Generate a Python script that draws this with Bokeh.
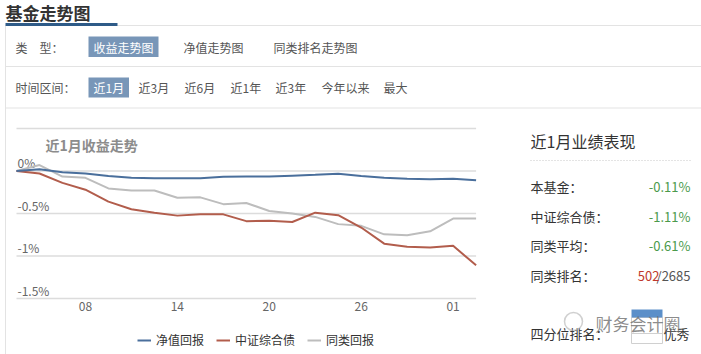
from bokeh.plotting import figure
from bokeh.models import Range1d, Legend, LegendItem
from bokeh.core.properties import value
from bokeh.embed import file_html
from bokeh.resources import INLINE

# ---------------- data ----------------
days = list(range(21))
nav_return = [0, 0.02, -0.015, -0.03, -0.06, -0.08, -0.085, -0.085, -0.085, -0.067, -0.066,
              -0.065, -0.055, -0.045, -0.032, -0.058, -0.078, -0.09, -0.098, -0.09, -0.11]
bench_return = [0, -0.03, -0.14, -0.22, -0.36, -0.45, -0.49, -0.525, -0.51, -0.51, -0.59,
                -0.585, -0.60, -0.49, -0.52, -0.665, -0.855, -0.89, -0.90, -0.88, -1.11]
peer_return = [0, 0.07, -0.065, -0.08, -0.205, -0.23, -0.23, -0.315, -0.31, -0.39, -0.376,
               -0.47, -0.50, -0.54, -0.625, -0.645, -0.745, -0.755, -0.71, -0.56, -0.56]
tick_index = [3, 7, 11, 15, 19]
tick_labels = ["08", "14", "20", "26", "01"]
y_ticks = [0.5, 0, -0.5, -1, -1.5]
y_tick_labels = ["0%", "-0.5%", "-1%", "-1.5%"]
series_names = ["净值回报", "中证综合债", "同类回报"]
stat_labels = ["本基金：", "中证综合债：", "同类平均：", "同类排名："]
stat_values = ["-0.11%", "-1.11%", "-0.61%"]
rank_value = "502"
rank_total = "/2685"
type_tabs = ["收益走势图", "净值走势图", "同类排名走势图"]
period_tabs = ["近1月", "近3月", "近6月", "近1年", "近3年", "今年以来", "最大"]

# ---------------- page ----------------
W, H = 701, 354
FONT = value("Noto Sans CJK SC")
p = figure(width=W, height=H, x_range=Range1d(0, W), y_range=Range1d(H, 0),
           min_border=0, outline_line_color=None, toolbar_location=None,
           output_backend="svg", x_axis_location=None, y_axis_location=None)
p.grid.visible = False
p.background_fill_color = "white"

def txt(xs, ys, texts, size, color, align="left", style="normal", alpha=1.0,
        baseline="middle", xr="default", yr="default"):
    p.text(x=xs, y=ys, text=texts, text_font=FONT, text_font_size=f"{size}px",
           text_color=color, text_align=align, text_baseline=baseline,
           text_font_style=style, text_alpha=alpha, x_range_name=xr, y_range_name=yr)

LINE = "#e3e3e3"
# header
txt([5], [11.5], ["基金走势图"], 17, "#333333", style="bold")
p.segment(x0=[117, 5, 5], y0=[25, 66, 107.5], x1=[W, W, W], y1=[25, 66, 107.5],
          line_color=LINE, line_width=1)
p.segment(x0=[5], y0=[25], x1=[5], y1=[H], line_color=LINE, line_width=1)
p.quad(left=[5], right=[117], top=[22.5], bottom=[25.5], fill_color="#2e5b88", line_color=None)

# tab rows
HL = "#7896b8"
txt([15], [46.5], ["类　型："], 12, "#555555")
p.quad(left=[88], right=[158], top=[36], bottom=[56.5], fill_color=HL, line_color=None)
txt([123], [46.5], [type_tabs[0]], 12, "white", align="center")
txt([183, 273], [46.5, 46.5], type_tabs[1:], 12, "#555555")

txt([15], [87.3], ["时间区间："], 12, "#555555")
p.quad(left=[88], right=[128.5], top=[77], bottom=[97], fill_color=HL, line_color=None)
txt([108.3], [87.3], [period_tabs[0]], 12, "white", align="center")
txt([138, 184, 230, 275, 321, 383], [87.3] * 6, period_tabs[1:], 12, "#555555")

# ---------------- chart ----------------
CL, CR = 16.0, 475.6          # pixel extent of the x data range
Y0, K = 170.5, 85.0           # pixel of 0% and pixels per 1%
dx = (CR - CL) / (days[-1] - days[0])
p.extra_x_ranges = {"chart": Range1d(days[0] - CL / dx, days[-1] + (W - CR) / dx)}
p.extra_y_ranges = {"chart": Range1d((Y0 - H) / K, Y0 / K)}

p.segment(x0=[days[0]] * len(y_ticks), x1=[days[-1]] * len(y_ticks), y0=y_ticks, y1=y_ticks,
          x_range_name="chart", y_range_name="chart", line_color="#dcdcdc", line_width=1.5)
txt([17] * len(y_tick_labels), y_ticks[1:], y_tick_labels, 12, "#666666",
    baseline="bottom", yr="chart")
txt(tick_index, [305.7] * len(tick_index), tick_labels, 12, "#666666", align="center", xr="chart")
txt([45], [144], ["近1月收益走势"], 14, "#8c8c8c", style="bold")

r_peer = p.line(days, peer_return, x_range_name="chart", y_range_name="chart",
                line_color="#bdbdbd", line_width=2)
r_bench = p.line(days, bench_return, x_range_name="chart", y_range_name="chart",
                 line_color="#b25d4c", line_width=2)
r_nav = p.line(days, nav_return, x_range_name="chart", y_range_name="chart",
               line_color="#4a6f9c", line_width=2)

legend = Legend(items=[LegendItem(label=series_names[0], renderers=[r_nav]),
                       LegendItem(label=series_names[1], renderers=[r_bench]),
                       LegendItem(label=series_names[2], renderers=[r_peer])],
                location=(137, 6), orientation="horizontal", glyph_width=14, glyph_height=12,
                label_standoff=5, spacing=12, padding=0, margin=0,
                label_text_font="Noto Sans CJK SC", label_text_font_size="12px",
                label_text_color="#333333", border_line_color=None,
                background_fill_alpha=0)
p.add_layout(legend)

# ---------------- right panel ----------------
txt([530], [140], ["近1月业绩表现"], 16, "#333333")
p.segment(x0=[530], y0=[160], x1=[692], y1=[160], line_color="#c8c8c8", line_dash="1 2")
txt([530] * 4, [186, 216, 245, 275], stat_labels, 13, "#333333")
txt([690] * 3, [186, 216, 245], stat_values, 13, "#4b9a4b", align="right")
txt([690], [275], [rank_total], 13, "#555555", align="right")
txt([659], [275], [rank_value], 13, "#c0392b", align="right")
txt([530], [333], ["四分位排名："], 13, "#333333")
txt([689], [333], ["优秀"], 13, "#333333", align="right")
p.quad(left=[631], right=[662], top=[317], bottom=[343], fill_color="white",
       line_color="#d0d0d0", line_width=1)
p.segment(x0=[631], y0=[333], x1=[662], y1=[333], line_color="#d0d0d0")
p.quad(left=[631], right=[662], top=[309], bottom=[317], fill_color="#5b8fc9", line_color=None)

# watermark
p.scatter([573], [321], size=18, marker="circle", fill_color=None,
          line_color="#b0b0b0", line_alpha=0.6, line_width=1.5)
txt([595], [323], ["财务会计圈"], 17, "#666666", alpha=0.75)

open("out.html", "w").write(file_html(p, INLINE))
